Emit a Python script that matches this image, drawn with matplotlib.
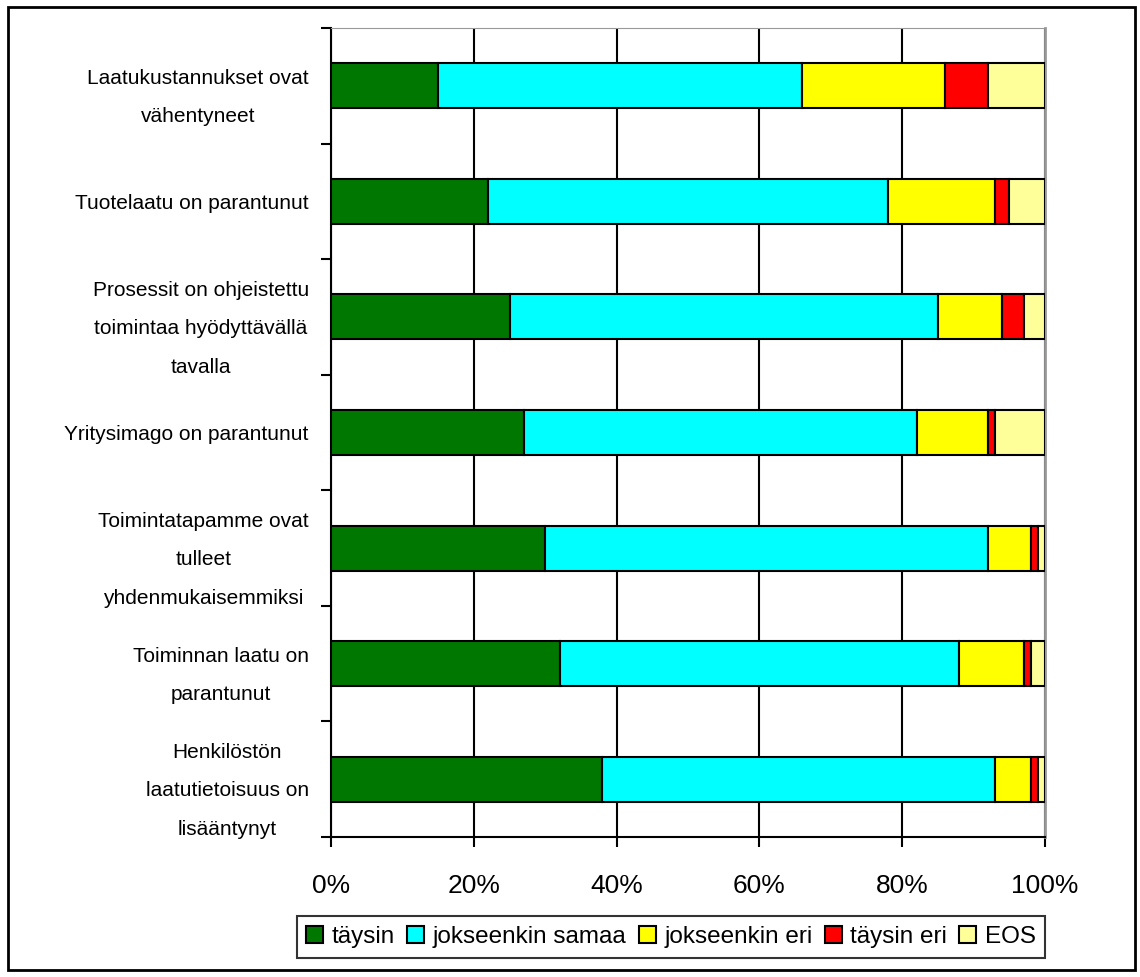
import numpy as np
import matplotlib.pyplot as plt
from matplotlib.patches import Rectangle

plt.rcParams['font.family'] = ['Liberation Sans', 'DejaVu Sans']

# väittämät (ylhäältä alas)
labels = [
    "Laatukustannukset ovat\nvähentyneet",
    "Tuotelaatu on parantunut",
    "Prosessit on ohjeistettu\ntoimintaa hyödyttävällä\ntavalla",
    "Yritysimago on parantunut",
    "Toimintatapamme ovat\ntulleet\nyhdenmukaisemmiksi",
    "Toiminnan laatu on\nparantunut",
    "Henkilöstön\nlaatutietoisuus on\nlisääntynyt",
]

# osuudet prosentteina
taysin = [15, 22, 25, 27, 30, 32, 38]
jokseenkin_samaa = [51, 56, 60, 55, 62, 56, 55]
jokseenkin_eri = [20, 15, 9, 10, 6, 9, 5]
taysin_eri = [6, 2, 3, 1, 1, 1, 1]
eos = [8, 5, 3, 7, 1, 2, 1]

series = [taysin, jokseenkin_samaa, jokseenkin_eri, taysin_eri, eos]
names = ["täysin", "jokseenkin samaa", "jokseenkin eri", "täysin eri", "EOS"]
colors = ["#007800", "#00ffff", "#ffff00", "#ff0000", "#ffff99"]

fig = plt.figure(figsize=(11.4, 9.77), dpi=100)
ax = fig.add_axes([0.2904, 0.1433, 0.6263, 0.828])

y = np.arange(len(labels))
left = np.zeros(len(labels))
for vals, name, col in zip(series, names, colors):
    ax.barh(y, vals, left=left, height=0.39, color=col, edgecolor='black',
            linewidth=1.5, label=name, zorder=3)
    left += np.array(vals)

ax.set_xlim(0, 100)
ax.set_ylim(len(labels) - 0.5, -0.5)
ax.set_xticks(range(0, 101, 20))
ax.set_xticklabels([f"{v}%" for v in range(0, 101, 20)], fontsize=19)
ax.xaxis.grid(True, color='black', linewidth=1.5, zorder=0)
ax.tick_params(axis='x', length=7, width=1.5, pad=20)

# kategoriat: tikit rajoille, tekstit keskelle
ax.set_yticks(np.arange(-0.5, len(labels), 1))
ax.set_yticklabels([])
ax.set_yticks(y, minor=True)
ax.set_yticklabels(labels, minor=True, fontsize=15, multialignment='center',
                   linespacing=2.3)
ax.tick_params(axis='y', which='major', length=7, width=1.5)
ax.tick_params(axis='y', which='minor', length=0, pad=16)

ax.spines['left'].set_linewidth(1.5)
ax.spines['bottom'].set_linewidth(1.5)
ax.spines['top'].set_color('#999999')
ax.spines['right'].set_color('#999999')
ax.spines['right'].set_linewidth(2)

leg = fig.legend(loc='center', bbox_to_anchor=(0.5886, 0.0409), ncol=5,
                 fontsize=17.5, frameon=True, fancybox=False, handlelength=0.7,
                 handleheight=0.7, handletextpad=0.35, columnspacing=0.5,
                 borderpad=0.4)
leg.get_frame().set_edgecolor('black')
leg.get_frame().set_linewidth(1.5)

# ulkokehys
fig.patches.append(Rectangle((8 / 1140, 7 / 977), 1127 / 1140, 963 / 977,
                             transform=fig.transFigure, fill=False,
                             edgecolor='black', linewidth=2))

fig.savefig("out.png", dpi=100)
